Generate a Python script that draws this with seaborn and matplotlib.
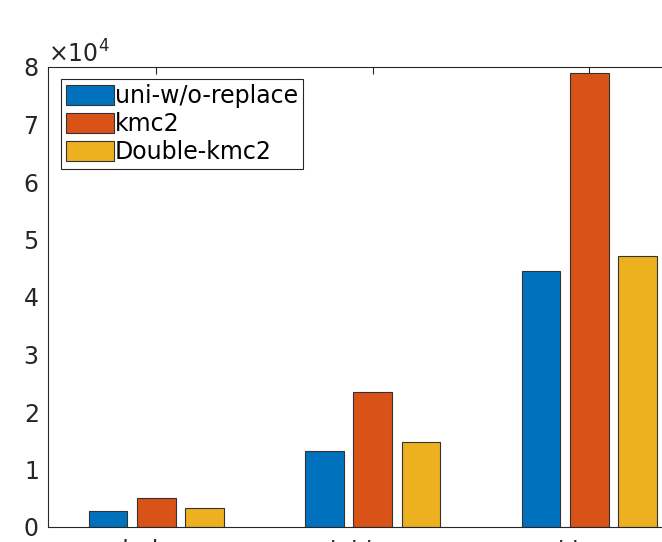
import matplotlib
matplotlib.use("Agg")
import matplotlib.pyplot as plt
import matplotlib.ticker as mticker
import seaborn as sns
import pandas as pd

# ---- data ----
datasets = ["abalone", "kddcup", "higgs"]
methods = ["uni-w/o-replace", "kmc2", "Double-kmc2"]
uni_wo_replace = [2780, 13270, 44500]
kmc2 = [5000, 23480, 79000]
double_kmc2 = [3360, 14730, 47130]
colors = ["#0072BD", "#D95319", "#EDB120"]

rows = []
for m, vals in zip(methods, [uni_wo_replace, kmc2, double_kmc2]):
    for d, v in zip(datasets, vals):
        rows.append({"dataset": d, "method": m, "value": v})
df = pd.DataFrame(rows)

sns.set_style("white")
plt.rcParams["font.family"] = ["DejaVu Sans"]
plt.rcParams["axes.unicode_minus"] = False

W, H = 662, 542
fig = plt.figure(figsize=(W / 100, H / 100), dpi=100)
ax = fig.add_axes([48 / W, 15 / H, 649.5 / W, 460 / H])

sns.barplot(data=df, x="dataset", y="value", hue="method", hue_order=methods,
            order=datasets, palette=colors, saturation=1, width=0.669, gap=0.2,
            edgecolor="#333333", linewidth=0.8, ax=ax, errorbar=None)

ax.set_xlim(-0.5, 2.5)
ax.set_ylim(0, 80000)
ax.set_yticks(range(0, 80001, 10000))
fmt = mticker.ScalarFormatter(useMathText=True)
fmt.set_powerlimits((0, 0))
ax.yaxis.set_major_formatter(fmt)
ax.set_xlabel("")
ax.set_ylabel("")

tc = "#262626"
for s in ax.spines.values():
    s.set_visible(True)
    s.set_color(tc)
    s.set_linewidth(0.8)
ax.tick_params(axis="both", direction="in", length=5, width=0.8, color=tc,
               labelsize=17, labelcolor=tc, top=True, right=True)
ax.tick_params(axis="y", pad=7)
ax.tick_params(axis="x", pad=9)
ax.yaxis.get_offset_text().set_fontsize(17)
ax.yaxis.get_offset_text().set_color(tc)

handles, labels = ax.get_legend_handles_labels()
leg = ax.legend(handles, labels, loc="upper left",
                bbox_to_anchor=(61 / W, 1 - 79 / H), bbox_transform=fig.transFigure,
                borderaxespad=0, fontsize=17, frameon=True, fancybox=False,
                edgecolor=tc, framealpha=1, handlelength=2.03, handleheight=0.93,
                handletextpad=0.05, labelspacing=0.18, borderpad=0.2)
leg.get_frame().set_linewidth(0.8)
for t in leg.get_texts():
    t.set_color("#000000")

fig.savefig("out.png", dpi=100)
